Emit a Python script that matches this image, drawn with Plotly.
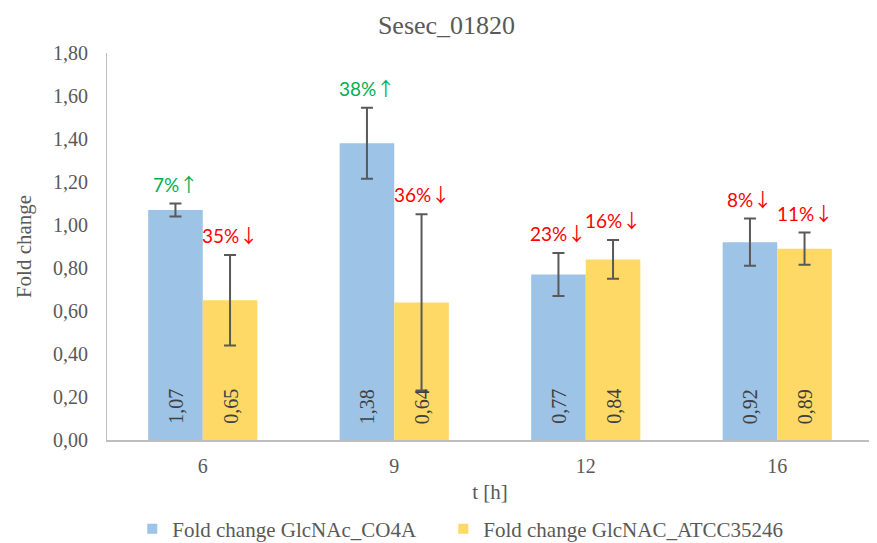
import plotly.graph_objects as go

categories = ["6", "9", "12", "16"]
co4a_values = [1.07, 1.38, 0.77, 0.92]
co4a_errors = [0.03, 0.165, 0.10, 0.11]
atcc_values = [0.65, 0.64, 0.84, 0.89]
atcc_errors = [0.21, 0.41, 0.09, 0.075]
co4a_change = ["7%", "38%", "23%", "8%"]
co4a_dir = ["↑", "↑", "↓", "↓"]
atcc_change = ["35%", "36%", "16%", "11%"]
atcc_dir = ["↓", "↓", "↓", "↓"]
series_names = ["Fold change GlcNAc_CO4A", "Fold change GlcNAC_ATCC35246"]
series_colors = ["#9DC3E6", "#FFD966"]

SERIF = "Liberation Serif, Times New Roman, serif"
SANS = "Lato, Liberation Sans, Arial, sans-serif"
GRAY = "#595959"

def fmt(v):
    return f"{v:.2f}".replace(".", ",")

fig = go.Figure()
for name, color, vals, errs in ((series_names[0], series_colors[0], co4a_values, co4a_errors),
                                (series_names[1], series_colors[1], atcc_values, atcc_errors)):
    fig.add_trace(go.Bar(
        name=name, x=categories, y=vals, showlegend=False,
        marker=dict(color=color, line=dict(width=0)),
        error_y=dict(type="data", array=errs, color=GRAY, thickness=2, width=6),
    ))
# legend entries with small square markers
for name, color, lg in zip(series_names, series_colors, ["legend", "legend2"]):
    fig.add_trace(go.Scatter(
        name=name, x=[None], y=[None], mode="markers", legend=lg,
        marker=dict(symbol="square", size=10, color=color), showlegend=True,
    ))

offset = 0.143
for i, c in enumerate(categories):
    for vals, errs, labels, dirs, dx in ((co4a_values, co4a_errors, co4a_change, co4a_dir, -offset),
                                         (atcc_values, atcc_errors, atcc_change, atcc_dir, offset)):
        col = "#00B050" if dirs[i] == "↑" else "#FF0000"
        fig.add_annotation(
            x=i + dx, y=vals[i] + errs[i], xref="x", yref="y",
            text=labels[i] + '<span style="font-family:Noto Sans CJK SC;font-size:19px">' + dirs[i] + "</span>",
            showarrow=False, yanchor="bottom", yshift=5,
            font=dict(family=SANS, size=19, color=col),
        )
        fig.add_annotation(
            x=i + dx, y=0, xref="x", yref="y",
            text=fmt(vals[i]), showarrow=False, textangle=-90,
            yanchor="bottom", yshift=14,
            font=dict(family=SERIF, size=20, color="#404040"),
        )

legend_common = dict(orientation="h", yref="container", y=0.0405, yanchor="middle", xanchor="left",
                     font=dict(family=SERIF, size=21, color=GRAY), itemwidth=30,
                     bgcolor="rgba(0,0,0,0)")

fig.update_layout(
    width=877, height=543,
    margin=dict(l=99, r=12, t=45, b=111, autoexpand=False),
    paper_bgcolor="white", plot_bgcolor="white",
    barmode="group", bargap=0.43, bargroupgap=0,
    title=dict(text="Sesec_01820", x=0.5, xanchor="center", y=0.9687, yanchor="middle",
               font=dict(family=SERIF, size=26, color=GRAY)),
    font=dict(family=SERIF, size=20, color=GRAY),
    xaxis=dict(
        type="category", automargin=False,
        title=dict(text="t [h]", font=dict(family=SERIF, size=21, color=GRAY), standoff=8),
        showline=True, linecolor="#BFBFBF", linewidth=2, ticks="", ticklabelstandoff=7,
        tickfont=dict(family=SERIF, size=20, color=GRAY), showgrid=False,
    ),
    yaxis=dict(
        range=[0, 1.8], dtick=0.2, tick0=0, tickformat=".2f", automargin=False,
        title=dict(text="Fold change", font=dict(family=SERIF, size=21, color=GRAY), standoff=15),
        showline=True, linecolor="#BFBFBF", linewidth=1, ticks="", showgrid=False,
        zeroline=False, ticklabelstandoff=14, tickfont=dict(family=SERIF, size=20, color=GRAY),
    ),
    separators=",.",
    legend=dict(x=0.033, **legend_common),
    legend2=dict(x=0.439, **legend_common),
    showlegend=True,
)

fig.write_html("out.html")
